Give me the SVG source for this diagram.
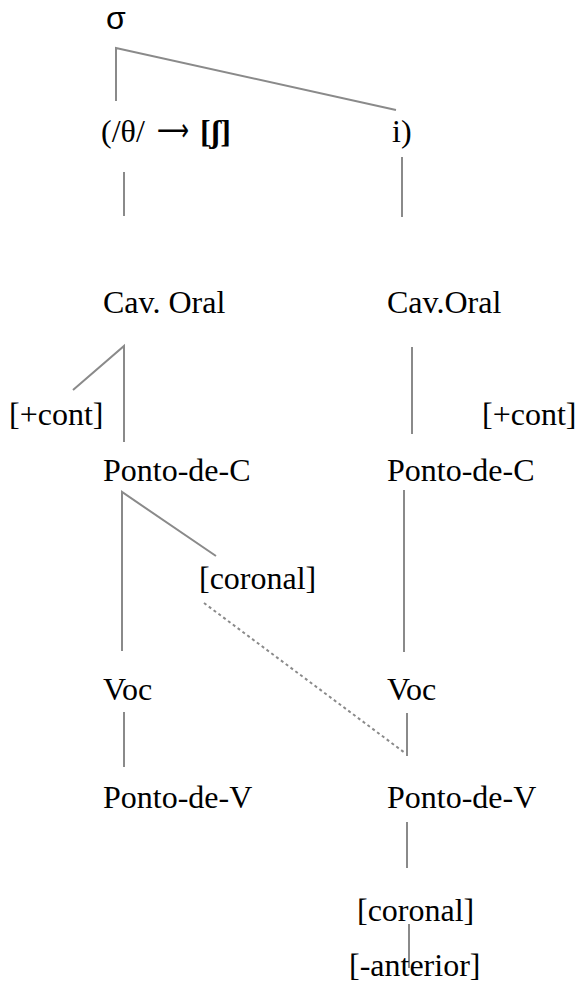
<svg xmlns="http://www.w3.org/2000/svg" width="577" height="982" viewBox="0 0 577 982">
  <style>
    text { font-family: "Liberation Serif", "Times New Roman", serif; font-size: 32px; fill: #000; }
    .sans { font-family: "Liberation Sans", Arial, sans-serif; }
    .arrow { font-family: "DejaVu Sans", sans-serif; }
    .b { font-weight: bold; }
    .ln { stroke: #8a8a8a; stroke-width: 2; fill: none; }
    .dot { stroke: #8a8a8a; stroke-width: 2; fill: none; stroke-dasharray: 3 3; }
  </style>
  <rect width="577" height="982" fill="#fff"/>

  <!-- connectors -->
  <g id="connectors">
    <polyline class="ln" points="116,101 116,48 396,110"/>
    <line class="ln" x1="124" y1="172" x2="124" y2="216"/>
    <line class="ln" x1="402" y1="157" x2="402" y2="217"/>
    <polyline class="ln" points="73,390 124,346 124,442"/>
    <line class="ln" x1="412" y1="347" x2="412" y2="434"/>
    <polyline class="ln" points="216,556 122,492 122,651"/>
    <line class="ln" x1="404" y1="490" x2="404" y2="652"/>
    <line class="dot" x1="204" y1="603" x2="405" y2="753"/>
    <line class="ln" x1="124" y1="712" x2="124" y2="767"/>
    <line class="ln" x1="407" y1="713" x2="407" y2="756"/>
    <line class="ln" x1="407" y1="822" x2="407" y2="868"/>
    <line class="ln" x1="409" y1="924" x2="409" y2="968"/>
  </g>

  <g id="sigma"><text class="sans" x="106" y="29">σ</text></g>
  <g id="segment-c">
    <text x="101" y="142">(/θ/</text>
    <text class="arrow" x="157" y="141" textLength="32" lengthAdjust="spacingAndGlyphs">⟶</text>
    <text class="b" x="200" y="142">[ʃ]</text>
  </g>
  <g id="segment-i"><text x="392" y="142">i)</text></g>

  <g id="cav-oral-l"><text x="103" y="313">Cav. Oral</text></g>
  <g id="cav-oral-r"><text x="387" y="313">Cav.Oral</text></g>
  <g id="cont-l"><text x="9" y="425">[+cont]</text></g>
  <g id="cont-r"><text x="482" y="425">[+cont]</text></g>
  <g id="ponto-c-l"><text x="103" y="481">Ponto-de-C</text></g>
  <g id="ponto-c-r"><text x="387" y="481">Ponto-de-C</text></g>
  <g id="coronal-l"><text x="199" y="589">[coronal]</text></g>
  <g id="voc-l"><text x="103" y="700">Voc</text></g>
  <g id="voc-r"><text x="387" y="700">Voc</text></g>
  <g id="ponto-v-l"><text x="103" y="808">Ponto-de-V</text></g>
  <g id="ponto-v-r"><text x="387" y="808">Ponto-de-V</text></g>
  <g id="coronal-r"><text x="357" y="921">[coronal]</text></g>
  <g id="anterior-r"><text x="349" y="976">[-anterior]</text></g>
</svg>
